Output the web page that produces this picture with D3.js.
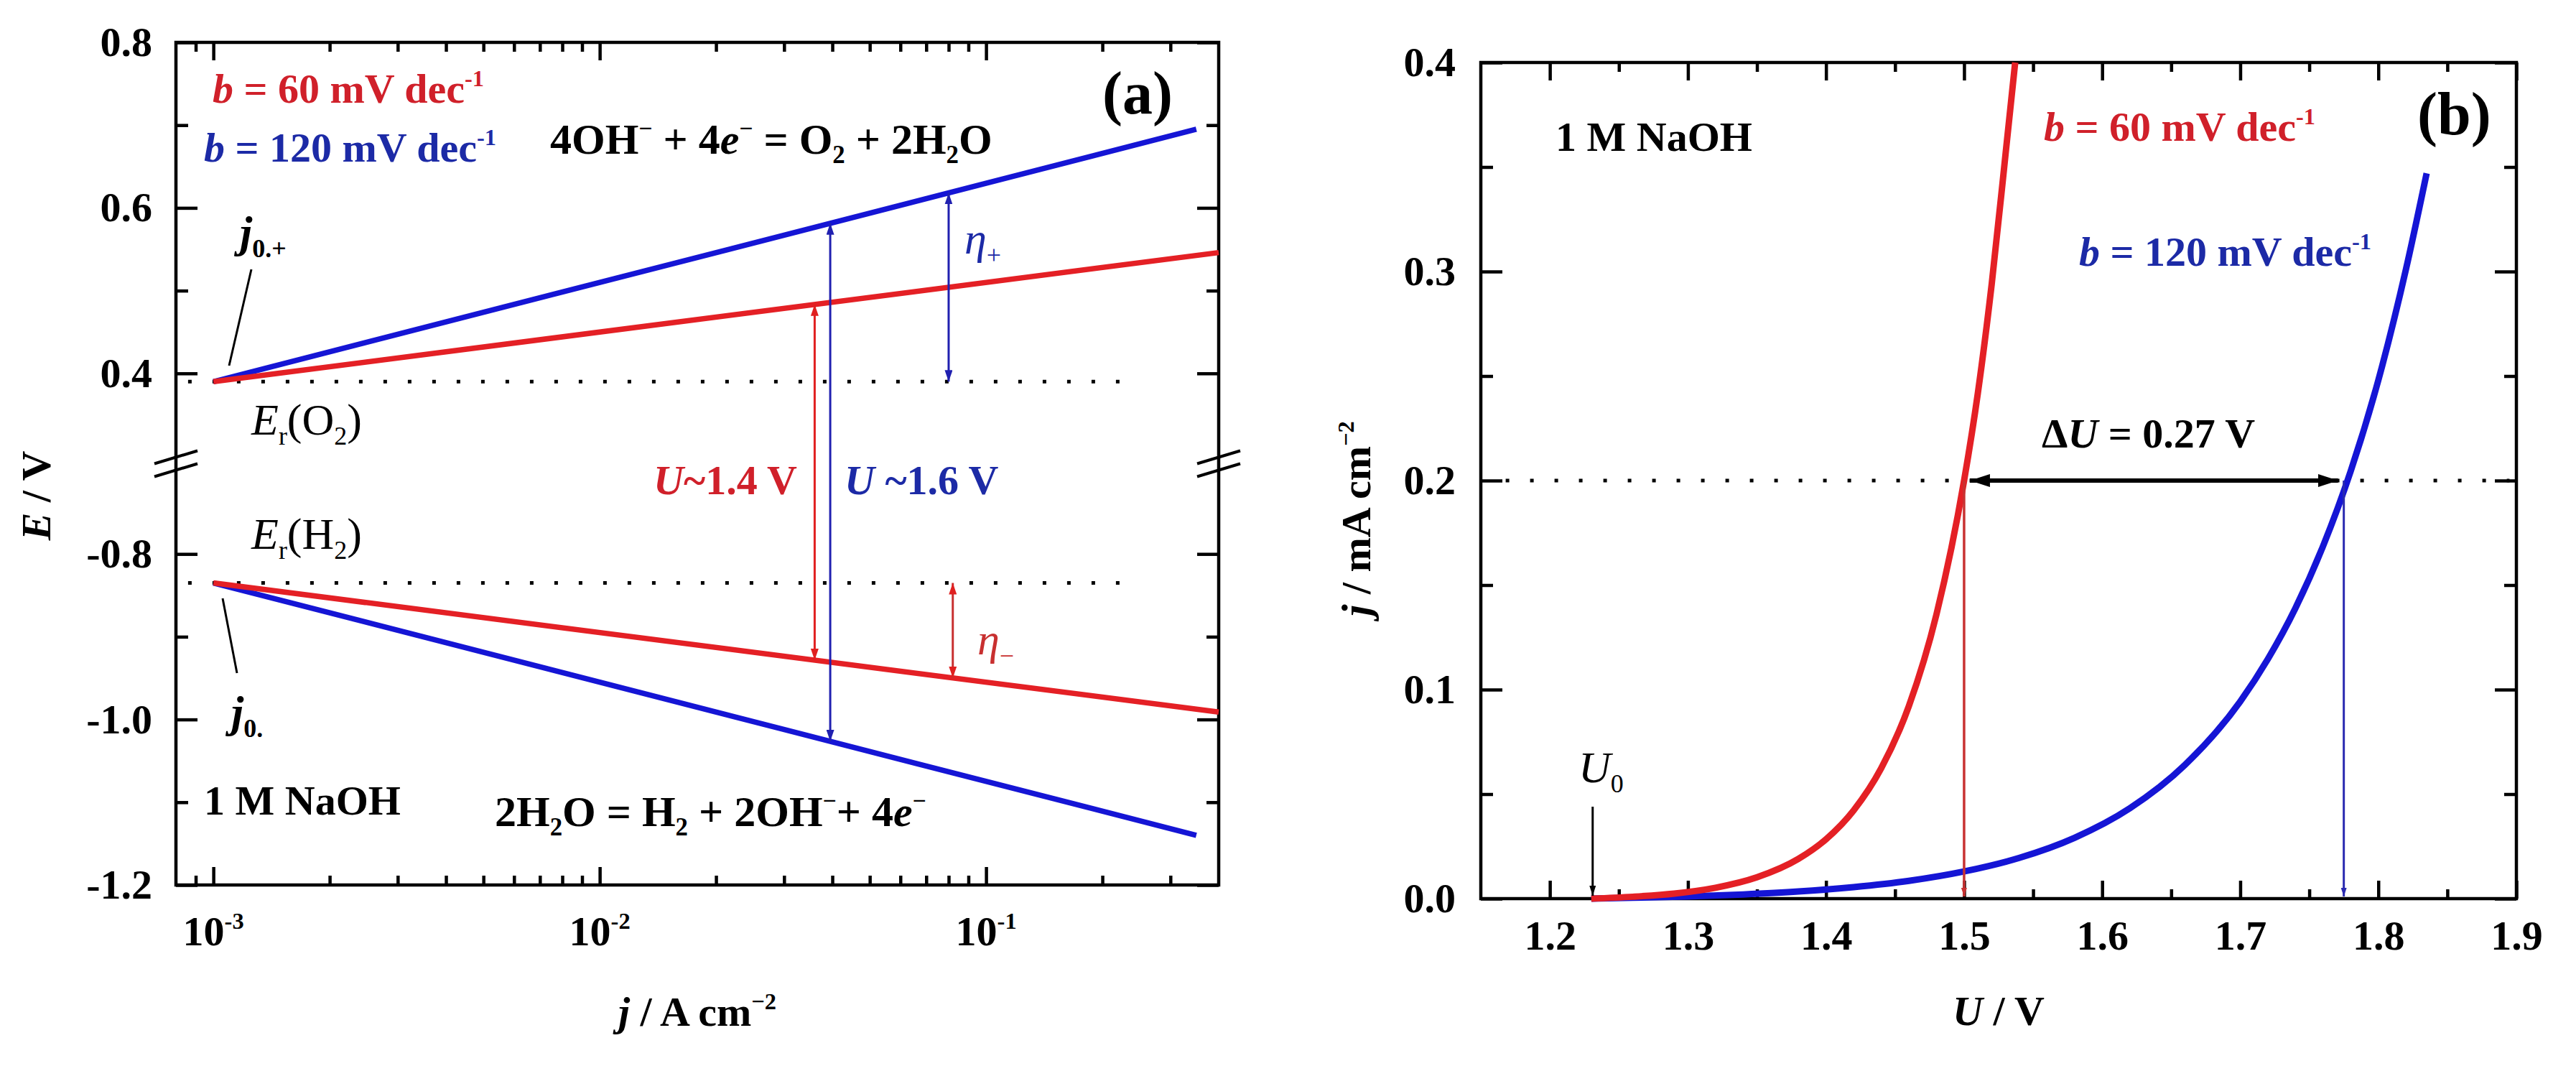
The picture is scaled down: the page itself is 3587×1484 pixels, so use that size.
<!DOCTYPE html>
<html><head><meta charset="utf-8">
<script src="https://cdn.jsdelivr.net/npm/d3@7"></script>
<style>
html,body{margin:0;padding:0;background:#fff;overflow:hidden;}
svg{display:block;}
svg text{font-family:"Liberation Serif","Times New Roman",serif;white-space:pre;}
</style></head>
<body>
<svg id="chart" width="3587" height="1484"></svg>
<script>
// ================= DATA =================
// Panel (a): Tafel lines  (j / A cm^-2, E / V)
const aXDomain = [8e-4, 0.4];
const aYUpperDomain = [0.3, 0.8];
const aYLowerDomain = [-1.2, -0.7];
const aXMajor = [1e-3, 1e-2, 1e-1];
const aXMajorExp = ["-3", "-2", "-1"];
const aXMinor = [9e-4, 2e-3, 3e-3, 4e-3, 5e-3, 6e-3, 7e-3, 8e-3, 9e-3,
                 2e-2, 3e-2, 4e-2, 5e-2, 6e-2, 7e-2, 8e-2, 9e-2, 2e-1, 3e-1];
const aYUpperMajor = [0.4, 0.6, 0.8];
const aYUpperLabels = ["0.4", "0.6", "0.8"];
const aYUpperMinor = [0.5, 0.7];
const aYLowerMajor = [-1.2, -1.0, -0.8];
const aYLowerLabels = ["-1.2", "-1.0", "-0.8"];
const aYLowerMinor = [-1.1, -0.9];

const oerRedJ = [0.001, 0.4],   oerRedE = [0.39, 0.546];
const oerBlueJ = [0.001, 0.35], oerBlueE = [0.39, 0.695];
const herRedJ = [0.001, 0.4],   herRedE = [-0.835, -0.991];
const herBlueJ = [0.001, 0.35], herBlueE = [-0.835, -1.140];
const erO2J = [8.6e-4, 0.235],  erO2E = [0.39, 0.39];
const erH2J = [8.6e-4, 0.225],  erH2E = [-0.835, -0.835];
const arrowU14J = 0.036, arrowU16J = 0.0395, etaPlusJ = 0.08, etaMinusJ = 0.082;

// Panel (b): polarization curves (U / V, j / mA cm^-2)
const bXDomain = [1.15, 1.9];
const bYDomain = [0, 0.4];
const bXMajor = [1.2, 1.3, 1.4, 1.5, 1.6, 1.7, 1.8, 1.9];
const bXMinor = [1.25, 1.35, 1.45, 1.55, 1.65, 1.75, 1.85];
const bYMajor = [0.0, 0.1, 0.2, 0.3, 0.4];
const bYMinor = [0.05, 0.15, 0.25, 0.35];
const bRedU = [1.23, 1.26, 1.29, 1.32, 1.35, 1.38, 1.40, 1.42, 1.44, 1.46, 1.48, 1.50, 1.51, 1.52, 1.53, 1.537];
const bRedJ = [0, 0.0009, 0.0024, 0.0052, 0.0102, 0.019, 0.0284, 0.0422, 0.0624, 0.0921, 0.136, 0.200, 0.242, 0.294, 0.356, 0.40];
const bBlueU = [1.23, 1.26, 1.30, 1.34, 1.38, 1.42, 1.46, 1.50, 1.54, 1.58, 1.62, 1.66, 1.70, 1.72, 1.74, 1.76, 1.78, 1.80, 1.82, 1.835];
const bBlueJ = [0, 0.0004, 0.0010, 0.0020, 0.0034, 0.0055, 0.0085, 0.0130, 0.0195, 0.0291, 0.0432, 0.064, 0.0943, 0.1146, 0.139, 0.1687, 0.2045, 0.248, 0.301, 0.347];
const bRefJ = 0.2, bRefU = [1.168, 1.895];
const bDeltaU = [1.5, 1.775];
const bU0 = 1.231;

// ================= STYLE =================
const FS = 58, FS_LBL = 62;
const RED_LINE = "#e42025", BLUE_LINE = "#1515d5";
const RED_TXT = "#d0202a", BLUE_TXT = "#1c2aa6";
const AXW = 4.5;

const svg = d3.select("#chart");
const defs = svg.append("defs");
function marker(id, color, len, wid) {
  defs.append("marker").attr("id", id)
    .attr("viewBox", `0 0 ${len} ${wid}`)
    .attr("refX", len).attr("refY", wid / 2)
    .attr("markerWidth", len).attr("markerHeight", wid)
    .attr("markerUnits", "userSpaceOnUse")
    .attr("orient", "auto-start-reverse")
    .append("path").attr("d", `M0,0 L${len},${wid / 2} L0,${wid} Z`).attr("fill", color);
}
marker("mRed", "#e02020", 16, 11);
marker("mBlue", "#2020b0", 16, 11);
marker("mBlack", "#000", 28, 18);
marker("mBlackS", "#000", 14, 9);
marker("mRedB", "#c83232", 12, 8);
marker("mBlueB", "#2a2ab0", 12, 8);

function rich(g, x, y, parts, o = {}) {
  const fs = o.size || FS;
  const t = g.append("text").attr("x", x).attr("y", y)
    .attr("font-size", fs).attr("font-weight", o.weight || "bold")
    .attr("fill", o.color || "#000").attr("text-anchor", o.anchor || "start")
    .attr("xml:space", "preserve");
  if (o.transform) t.attr("transform", o.transform);
  let off = 0;
  parts.forEach(p => {
    const str = Array.isArray(p) ? p[0] : p;
    const k = Array.isArray(p) ? (p[1] || "") : "";
    let target = 0, size = fs;
    if (k.includes("^")) { target = -0.40 * fs; size = 0.56 * fs; }
    if (k.includes("_")) { target = 0.22 * fs; size = 0.58 * fs; }
    const ts = t.append("tspan").text(str).attr("font-size", size);
    if (target - off !== 0) ts.attr("dy", target - off);
    off = target;
    if (k.includes("i")) ts.attr("font-style", "italic");
  });
  return t;
}
function styleAxis(sel) {
  sel.select(".domain").remove();
  sel.selectAll(".tick line").attr("stroke", "#000").attr("stroke-width", AXW);
  sel.selectAll("text").attr("font-size", FS).attr("font-weight", "bold").attr("fill", "#000")
    .attr("font-family", '"Liberation Serif","Times New Roman",serif');
}

// ================= PANEL (a) =================
const A = {left: 245, right: 1697, top: 59, bottom: 1232};
const pxPerV = 1152;
const xA = d3.scaleLog().domain(aXDomain).range([A.left, A.right]);
const yAUp = d3.scaleLinear().domain(aYUpperDomain).range([A.top + pxPerV * (aYUpperDomain[1] - aYUpperDomain[0]), A.top]);
const yALo = d3.scaleLinear().domain(aYLowerDomain).range([A.bottom, A.bottom - pxPerV * (aYLowerDomain[1] - aYLowerDomain[0])]);
const yA = v => v >= 0 ? yAUp(v) : yALo(v);
const gA = svg.append("g");

// ticks (inward)
const MAJ_Y = 30, MIN_Y = 17, MAJ_X = 25, MIN_X = 13;
gA.append("g").attr("transform", `translate(${A.left},0)`)
  .call(d3.axisLeft(yAUp).tickValues(aYUpperMajor).tickSize(-MAJ_Y).tickPadding(33).tickFormat((d, i) => aYUpperLabels[i])).call(styleAxis);
gA.append("g").attr("transform", `translate(${A.left},0)`)
  .call(d3.axisLeft(yALo).tickValues(aYLowerMajor).tickSize(-MAJ_Y).tickPadding(33).tickFormat((d, i) => aYLowerLabels[i])).call(styleAxis);
gA.append("g").attr("transform", `translate(${A.left},0)`)
  .call(d3.axisLeft(yAUp).tickValues(aYUpperMinor).tickSize(-MIN_Y).tickFormat("")).call(styleAxis);
gA.append("g").attr("transform", `translate(${A.left},0)`)
  .call(d3.axisLeft(yALo).tickValues(aYLowerMinor).tickSize(-MIN_Y).tickFormat("")).call(styleAxis);
[[yAUp, aYUpperMajor, MAJ_Y], [yALo, aYLowerMajor, MAJ_Y], [yAUp, aYUpperMinor, MIN_Y], [yALo, aYLowerMinor, MIN_Y]].forEach(([s, v, L]) => {
  gA.append("g").attr("transform", `translate(${A.right},0)`)
    .call(d3.axisRight(s).tickValues(v).tickSize(-L).tickFormat("")).call(styleAxis);
});
[[aXMajor, MAJ_X], [aXMinor, MIN_X]].forEach(([v, L]) => {
  gA.append("g").attr("transform", `translate(0,${A.bottom})`)
    .call(d3.axisBottom(xA).tickValues(v).tickSize(-L).tickFormat("")).call(styleAxis);
  gA.append("g").attr("transform", `translate(0,${A.top})`)
    .call(d3.axisTop(xA).tickValues(v).tickSize(-L).tickFormat("")).call(styleAxis);
});
aXMajor.forEach((v, i) => rich(gA, xA(v), 1316, [["10"], [aXMajorExp[i], "^"]], {anchor: "middle"}));

// frame
gA.append("rect").attr("x", A.left).attr("y", A.top).attr("width", A.right - A.left).attr("height", A.bottom - A.top)
  .attr("fill", "none").attr("stroke", "#000").attr("stroke-width", AXW);
// axis break marks
const breakY = (yAUp(aYUpperDomain[0]) + yALo(aYLowerDomain[1])) / 2;
[A.left, A.right].forEach(x0 => {
  [-9, 9].forEach(dy => {
    gA.append("line").attr("x1", x0 - 30).attr("y1", breakY + dy + 9).attr("x2", x0 + 30).attr("y2", breakY + dy - 9)
      .attr("stroke", "#000").attr("stroke-width", 4);
  });
});

// dotted reversible potentials
const lineA = d3.line().x(d => xA(d[0])).y(d => yA(d[1]));
const zip = (a, b) => a.map((v, i) => [v, b[i]]);
[[erO2J, erO2E], [erH2J, erH2E]].forEach(([J, E]) => {
  gA.append("path").attr("d", lineA(zip(J, E))).attr("fill", "none").attr("stroke", "#000")
    .attr("stroke-width", 5).attr("stroke-dasharray", "5 29");
});
// Tafel lines
[[oerBlueJ, oerBlueE, BLUE_LINE], [herBlueJ, herBlueE, BLUE_LINE], [oerRedJ, oerRedE, RED_LINE], [herRedJ, herRedE, RED_LINE]].forEach(([J, E, c]) => {
  gA.append("path").attr("d", lineA(zip(J, E))).attr("fill", "none").attr("stroke", c).attr("stroke-width", 7.5);
});
function lineE(J, E, j) {
  const t = (Math.log10(j) - Math.log10(J[0])) / (Math.log10(J[1]) - Math.log10(J[0]));
  return E[0] + t * (E[1] - E[0]);
}
function vArrow(g, x, y1, y2, color, mk, w, both = true) {
  const l = g.append("line").attr("x1", x).attr("x2", x).attr("y1", y1).attr("y2", y2)
    .attr("stroke", color).attr("stroke-width", w).attr("marker-end", `url(#${mk})`);
  if (both) l.attr("marker-start", `url(#${mk})`);
}
vArrow(gA, xA(arrowU14J), yA(lineE(oerRedJ, oerRedE, arrowU14J)), yA(lineE(herRedJ, herRedE, arrowU14J)), "#e02020", "mRed", 3);
vArrow(gA, xA(arrowU16J), yA(lineE(oerBlueJ, oerBlueE, arrowU16J)), yA(lineE(herBlueJ, herBlueE, arrowU16J)), "#2020b0", "mBlue", 3);
vArrow(gA, xA(etaPlusJ), yA(erO2E[0]), yA(lineE(oerBlueJ, oerBlueE, etaPlusJ)), "#2020b0", "mBlue", 3);
vArrow(gA, xA(etaMinusJ), yA(erH2E[0]), yA(lineE(herRedJ, herRedE, etaMinusJ)), "#c83030", "mRed", 3);

// pointer lines for j0
gA.append("line").attr("x1", 350).attr("y1", 375).attr("x2", 319).attr("y2", 509).attr("stroke", "#000").attr("stroke-width", 3);
gA.append("line").attr("x1", 330).attr("y1", 937).attr("x2", 310).attr("y2", 833).attr("stroke", "#000").attr("stroke-width", 3);

// texts (a)
rich(gA, 296, 143, [["b", "i"], [" = 60 mV dec"], ["-1", "^"]], {color: RED_TXT});
rich(gA, 284, 225, [["b", "i"], [" = 120 mV dec"], ["-1", "^"]], {color: BLUE_TXT});
rich(gA, 766, 214, [["4OH"], ["−", "^"], [" + 4"], ["e", "i"], ["−", "^"], [" = O"], ["2", "_"], [" + 2H"], ["2", "_"], ["O"]], {size: 60});
rich(gA, 1535, 158, [["(a)"]], {size: 84});
rich(gA, 334, 344, [["j", "i"], ["0.+", "_"]], {size: FS_LBL});
rich(gA, 350, 605, [["E", "i"], ["r", "_"], ["(O"], ["2", "_"], [")"]], {weight: "normal", size: FS_LBL});
rich(gA, 350, 764, [["E", "i"], ["r", "_"], ["(H"], ["2", "_"], [")"]], {weight: "normal", size: FS_LBL});
rich(gA, 322, 1012, [["j", "i"], ["0.", "_"]], {size: FS_LBL});
rich(gA, 1110, 688, [["U", "i"], ["~1.4 V"]], {color: RED_TXT, anchor: "end"});
rich(gA, 1176, 688, [["U", "i"], [" ~1.6 V"]], {color: BLUE_TXT});
rich(gA, 1343, 353, [["η", "i"], ["+", "_"]], {color: BLUE_TXT, weight: "normal", size: FS_LBL});
rich(gA, 1361, 911, [["η", "i"], ["−", "_"]], {color: "#c83030", weight: "normal", size: FS_LBL});
rich(gA, 284, 1134, [["1 M NaOH"]]);
rich(gA, 689, 1150, [["2H"], ["2", "_"], ["O = H"], ["2", "_"], [" + 2OH"], ["−", "^"], ["+ 4"], ["e", "i"], ["−", "^"]], {size: 60});
rich(gA, 0, 0, [["E", "i"], [" / V"]], {anchor: "middle", transform: "translate(70,690) rotate(-90)"});
rich(gA, (A.left + A.right) / 2, 1428, [["j", "i"], [" / A cm"], ["−2", "^"]], {anchor: "middle"});

// ================= PANEL (b) =================
const B = {left: 2062, right: 3504, top: 87, bottom: 1251};
const xB = d3.scaleLinear().domain(bXDomain).range([B.left, B.right]);
const yB = d3.scaleLinear().domain(bYDomain).range([B.bottom, B.top]);
const gB = svg.append("g");
gB.append("g").attr("transform", `translate(${B.left},0)`)
  .call(d3.axisLeft(yB).tickValues(bYMajor).tickSize(-MAJ_Y).tickPadding(35).tickFormat(d3.format(".1f"))).call(styleAxis);
gB.append("g").attr("transform", `translate(${B.left},0)`)
  .call(d3.axisLeft(yB).tickValues(bYMinor).tickSize(-MIN_Y).tickFormat("")).call(styleAxis);
[[bYMajor, MAJ_Y], [bYMinor, MIN_Y]].forEach(([v, L]) => {
  gB.append("g").attr("transform", `translate(${B.right},0)`)
    .call(d3.axisRight(yB).tickValues(v).tickSize(-L).tickFormat("")).call(styleAxis);
});
gB.append("g").attr("transform", `translate(0,${B.bottom})`)
  .call(d3.axisBottom(xB).tickValues(bXMajor).tickSize(-MAJ_X).tickPadding(30).tickFormat(d3.format(".1f"))).call(styleAxis);
gB.append("g").attr("transform", `translate(0,${B.bottom})`)
  .call(d3.axisBottom(xB).tickValues(bXMinor).tickSize(-MIN_X).tickFormat("")).call(styleAxis);
[[bXMajor, MAJ_X], [bXMinor, MIN_X]].forEach(([v, L]) => {
  gB.append("g").attr("transform", `translate(0,${B.top})`)
    .call(d3.axisTop(xB).tickValues(v).tickSize(-L).tickFormat("")).call(styleAxis);
});
gB.append("rect").attr("x", B.left).attr("y", B.top).attr("width", B.right - B.left).attr("height", B.bottom - B.top)
  .attr("fill", "none").attr("stroke", "#000").attr("stroke-width", AXW);

// dotted line j = 0.2
gB.append("line").attr("x1", xB(bRefU[0])).attr("x2", xB(bRefU[1])).attr("y1", yB(bRefJ)).attr("y2", yB(bRefJ))
  .attr("stroke", "#000").attr("stroke-width", 5).attr("stroke-dasharray", "5 29");
// curves
const lineB = d3.line().x(d => xB(d[0])).y(d => yB(d[1])).curve(d3.curveMonotoneX);
gB.append("path").attr("d", lineB(zip(bBlueU, bBlueJ))).attr("fill", "none").attr("stroke", BLUE_LINE).attr("stroke-width", 9);
gB.append("path").attr("d", lineB(zip(bRedU, bRedJ))).attr("fill", "none").attr("stroke", RED_LINE).attr("stroke-width", 9);
// drop lines
vArrow(gB, xB(bDeltaU[0]), yB(bRefJ), yB(0) - 3, "#c83232", "mRedB", 3.5, false);
vArrow(gB, xB(bDeltaU[1]), yB(bRefJ), yB(0) - 3, "#2a2ab0", "mBlueB", 3, false);
// delta U arrow
gB.append("line").attr("x1", xB(bDeltaU[0]) + 8).attr("x2", xB(bDeltaU[1]) - 8).attr("y1", yB(bRefJ)).attr("y2", yB(bRefJ))
  .attr("stroke", "#000").attr("stroke-width", 6)
  .attr("marker-start", "url(#mBlack)").attr("marker-end", "url(#mBlack)");
// U0 pointer
gB.append("line").attr("x1", xB(bU0)).attr("x2", xB(bU0)).attr("y1", 1123).attr("y2", yB(0) - 4)
  .attr("stroke", "#000").attr("stroke-width", 3).attr("marker-end", "url(#mBlackS)");

// texts (b)
rich(gB, 2166, 210, [["1 M NaOH"]]);
rich(gB, 2846, 196, [["b", "i"], [" = 60 mV dec"], ["-1", "^"]], {color: RED_TXT});
rich(gB, 2895, 370, [["b", "i"], [" = 120 mV dec"], ["-1", "^"]], {color: BLUE_TXT});
rich(gB, 3366, 187, [["(b)"]], {size: 84});
rich(gB, 2843, 623, [["Δ"], ["U", "i"], [" = 0.27 V"]]);
rich(gB, 2198, 1089, [["U", "i"], ["0", "_"]], {weight: "normal", size: FS_LBL});
rich(gB, 0, 0, [["j", "i"], [" / mA cm"], ["−2", "^"]], {anchor: "middle", transform: "translate(1908,722) rotate(-90)"});
rich(gB, (B.left + B.right) / 2, 1427, [["U", "i"], [" / V"]], {anchor: "middle"});
</script>
</body></html>
